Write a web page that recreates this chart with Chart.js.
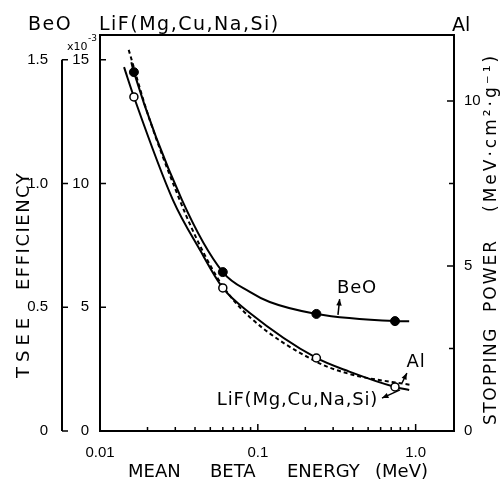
<!DOCTYPE html>
<html>
<head>
<meta charset="utf-8">
<script src="https://cdn.jsdelivr.net/npm/chart.js@4.4.1/dist/chart.umd.min.js"></script>
<style>
  body { margin: 0; background: #fff; }
  #chart { display: block; }
</style>
</head>
<body>
<canvas id="chart" width="501" height="481"></canvas>
<script>
// measured points, mean beta energy in MeV
const pointE = [0.0164, 0.060, 0.235, 0.74];
const beoPoints = [1.45, 0.642, 0.473, 0.444];   // BeO efficiency (outer left axis)
const lifPoints = [13.5, 5.78, 2.95, 1.78];      // LiF efficiency, x10^-3

// drawn curves
const beoLineE = [0.0158, 0.0164, 0.0331, 0.060, 0.089, 0.119, 0.235, 0.74, 0.91];
const beoLineV = [1.49, 1.45, 0.933, 0.642, 0.562, 0.521, 0.473, 0.444, 0.443];
const lifLineE = [0.0142, 0.0164, 0.029, 0.043, 0.060, 0.089, 0.235, 0.38, 0.74, 0.91];
const lifLineV = [14.7, 13.5, 9.33, 7.31, 5.78, 4.77, 2.95, 2.40, 1.78, 1.66];
const alLineE = [0.0152, 0.0201, 0.0299, 0.0412, 0.060, 0.089, 0.235, 0.38, 0.95];
const alLineV = [11.55, 9.6, 7.35, 5.8, 4.39, 3.45, 2.10, 1.73, 1.39]; // MeV cm2/g

// ticks
const xMajor = [0.01, 0.1, 1];
const xMajorLabels = ['0.01', '0.1', '1.0'];
const xMinor = [0.02, 0.03, 0.04, 0.05, 0.06, 0.07, 0.08, 0.09,
  0.2, 0.3, 0.4, 0.5, 0.6, 0.7, 0.8, 0.9];
const beoTicks = [0, 0.5, 1.0, 1.5];
const beoTickLabels = ['0', '0.5', '1.0', '1.5'];
const lifTicks = [0, 5, 10, 15];
const lifTickLabels = ['0', '5', '10', '15'];
const alTicks = [0, 5, 10];
const alTickLabels = ['0', '5', '10'];
const alMinor = [2.5, 7.5];

const FONT = 'DejaVu Sans';
const TICK_FONT = 'Liberation Sans';

function pairs(xs, ys) {
  return xs.map((x, i) => ({ x: x, y: ys[i] }));
}

// labels with arrows, in data units of the LiF axis
const notes = [
  { text: 'BeO', at: [0.425, 5.78], align: 'center', tail: [0.322, 4.69], head: [0.33, 5.33] },
  { text: 'Al', at: [1.006, 2.79], align: 'center', tail: [0.82, 1.94], head: [0.88, 2.34] },
  { text: 'LiF(Mg,Cu,Na,Si)', at: [0.578, 1.25], align: 'right', tail: [0.796, 1.66], head: [0.612, 1.33] },
];

function arrow(ctx, x1, y1, x2, y2) {
  const a = Math.atan2(y2 - y1, x2 - x1);
  ctx.beginPath();
  ctx.moveTo(x1, y1);
  ctx.lineTo(x2, y2);
  ctx.stroke();
  ctx.beginPath();
  ctx.moveTo(x2, y2);
  ctx.lineTo(x2 - 7 * Math.cos(a - 0.4), y2 - 7 * Math.sin(a - 0.4));
  ctx.lineTo(x2 - 7 * Math.cos(a + 0.4), y2 - 7 * Math.sin(a + 0.4));
  ctx.closePath();
  ctx.fill();
}

function spaced(ctx, text, x, y, spacing) {
  ctx.letterSpacing = spacing + 'px';
  ctx.fillText(text, x, y);
  ctx.letterSpacing = '0px';
}

const frameAndLabels = {
  id: 'frameAndLabels',
  afterDraw(chart) {
    const ctx = chart.ctx;
    const ca = chart.chartArea;
    const sx = chart.scales.x;
    const sy = chart.scales.y;
    const sb = chart.scales.yBeO;
    const sa = chart.scales.yAl;
    ctx.save();
    ctx.strokeStyle = '#000';
    ctx.fillStyle = '#000';
    ctx.lineWidth = 2;

    // top of the frame
    ctx.beginPath();
    ctx.moveTo(ca.left - 1, ca.top);
    ctx.lineTo(ca.right + 1, ca.top);
    ctx.stroke();

    // BeO axis, only up to 1.5
    const bx = sb.right;
    ctx.beginPath();
    ctx.moveTo(bx, sb.getPixelForValue(1.5));
    ctx.lineTo(bx, sb.getPixelForValue(0));
    ctx.stroke();

    ctx.lineWidth = 1.5;
    ctx.beginPath();
    beoTicks.forEach(v => {
      const py = sb.getPixelForValue(v);
      ctx.moveTo(bx, py);
      ctx.lineTo(bx + 6, py);
    });
    lifTicks.slice(1).forEach(v => {
      const py = sy.getPixelForValue(v);
      ctx.moveTo(ca.left, py);
      ctx.lineTo(ca.left + 6, py);
    });
    alTicks.slice(1).forEach(v => {
      const py = sa.getPixelForValue(v);
      ctx.moveTo(ca.right, py);
      ctx.lineTo(ca.right - 7, py);
    });
    alMinor.forEach(v => {
      const py = sa.getPixelForValue(v);
      ctx.moveTo(ca.right, py);
      ctx.lineTo(ca.right - 5, py);
    });
    xMajor.slice(1).forEach(v => {
      const px = sx.getPixelForValue(v);
      ctx.moveTo(px, ca.bottom);
      ctx.lineTo(px, ca.bottom - 7);
    });
    xMinor.forEach(v => {
      const px = sx.getPixelForValue(v);
      ctx.moveTo(px, ca.bottom);
      ctx.lineTo(px, ca.bottom - 4);
    });
    ctx.stroke();

    // headings over the axes
    ctx.font = '19px ' + FONT;
    ctx.textAlign = 'left';
    ctx.textBaseline = 'alphabetic';
    spaced(ctx, 'BeO', 28, 30, 1.5);
    spaced(ctx, 'LiF(Mg,Cu,Na,Si)', 99, 30, 1.5);
    ctx.fillText('Al', 452, 31);
    ctx.font = '11px ' + FONT;
    ctx.fillText('x10', 67, 50);
    ctx.font = '9px ' + FONT;
    ctx.fillText('-3', 88, 41);

    // axis titles
    ctx.font = '18px ' + FONT;
    ctx.fillText('MEAN', 128, 477);
    ctx.fillText('BETA', 210, 477);
    ctx.fillText('ENERGY', 287, 477);
    ctx.fillText('(MeV)', 375, 477);

    ctx.save();
    ctx.translate(29, 0);
    ctx.rotate(-Math.PI / 2);
    spaced(ctx, 'TSEE', -378, 0, 5);
    spaced(ctx, 'EFFICIENCY', -290, 0, 1.5);
    ctx.restore();

    ctx.save();
    ctx.translate(496, 0);
    ctx.rotate(-Math.PI / 2);
    ctx.font = '17px ' + FONT;
    spaced(ctx, 'STOPPING', -425, 0, 1.5);
    spaced(ctx, 'POWER', -312, 0, 2);
    spaced(ctx, '(MeV·cm²·g⁻¹)', -212, 0, 3);
    ctx.restore();

    // curve labels
    ctx.font = '18px ' + FONT;
    ctx.textBaseline = 'middle';
    ctx.lineWidth = 1.5;
    notes.forEach(n => {
      ctx.textAlign = n.align;
      spaced(ctx, n.text, sx.getPixelForValue(n.at[0]), sy.getPixelForValue(n.at[1]), 0.8);
      arrow(ctx,
        sx.getPixelForValue(n.tail[0]), sy.getPixelForValue(n.tail[1]),
        sx.getPixelForValue(n.head[0]), sy.getPixelForValue(n.head[1]));
    });
    ctx.restore();
  }
};

const tickFont = { family: TICK_FONT, size: 15 };

new Chart(document.getElementById('chart'), {
  type: 'line',
  data: {
    datasets: [
      {
        label: 'BeO',
        data: pairs(pointE, beoPoints),
        yAxisID: 'yBeO',
        showLine: false,
        pointRadius: 4.5,
        pointBackgroundColor: '#000',
        pointBorderColor: '#000',
        order: 0,
      },
      {
        label: 'LiF(Mg,Cu,Na,Si)',
        data: pairs(pointE, lifPoints),
        yAxisID: 'y',
        showLine: false,
        pointRadius: 4,
        pointBorderWidth: 1.5,
        pointBackgroundColor: '#fff',
        pointBorderColor: '#000',
        order: 0,
      },
      {
        label: 'BeO curve',
        data: pairs(beoLineE, beoLineV),
        yAxisID: 'yBeO',
        borderColor: '#000',
        borderWidth: 2,
        pointRadius: 0,
        cubicInterpolationMode: 'monotone',
        order: 1,
      },
      {
        label: 'LiF curve',
        data: pairs(lifLineE, lifLineV),
        yAxisID: 'y',
        borderColor: '#000',
        borderWidth: 2,
        pointRadius: 0,
        cubicInterpolationMode: 'monotone',
        order: 1,
      },
      {
        label: 'Al',
        data: pairs(alLineE, alLineV),
        yAxisID: 'yAl',
        borderColor: '#000',
        borderWidth: 2,
        borderDash: [4, 3],
        pointRadius: 0,
        cubicInterpolationMode: 'monotone',
        order: 1,
      },
    ],
  },
  options: {
    responsive: false,
    animation: false,
    devicePixelRatio: 1,
    layout: { padding: { top: 35, left: 0, right: 0, bottom: 0 } },
    plugins: {
      legend: { display: false },
      tooltip: { enabled: false },
    },
    scales: {
      x: {
        type: 'logarithmic',
        min: 0.01,
        max: 1.75,
        grid: { display: false },
        border: { color: '#000', width: 2 },
        ticks: {
          color: '#000',
          font: tickFont,
          padding: 5,
          maxRotation: 0,
          autoSkip: false,
          callback: (v, i) => xMajorLabels[i],
        },
        afterBuildTicks: s => { s.ticks = xMajor.map(v => ({ value: v })); },
        afterFit: s => { s.height = 50; },
      },
      y: {
        type: 'linear',
        position: 'left',
        weight: 0,
        min: 0,
        max: 16,
        grid: { display: false },
        border: { color: '#000', width: 2 },
        ticks: {
          color: '#000',
          font: tickFont,
          padding: 3,
          callback: (v, i) => lifTickLabels[i],
        },
        afterBuildTicks: s => { s.ticks = lifTicks.map(v => ({ value: v })); },
        afterFit: s => { s.width = 38; },
      },
      yBeO: {
        type: 'linear',
        position: 'left',
        weight: 1,
        min: 0,
        max: 1.6,
        grid: { display: false },
        border: { display: false },
        ticks: {
          color: '#000',
          font: tickFont,
          padding: 6,
          callback: (v, i) => beoTickLabels[i],
        },
        afterBuildTicks: s => { s.ticks = beoTicks.map(v => ({ value: v })); },
        afterFit: s => { s.width = 62; },
      },
      yAl: {
        type: 'linear',
        position: 'right',
        min: 0,
        max: 12,
        grid: { display: false },
        border: { color: '#000', width: 2 },
        ticks: {
          color: '#000',
          font: tickFont,
          padding: 2,
          callback: (v, i) => alTickLabels[i],
        },
        afterBuildTicks: s => { s.ticks = alTicks.map(v => ({ value: v })); },
        afterFit: s => { s.width = 47; },
      },
    },
  },
  plugins: [frameAndLabels],
});
</script>
</body>
</html>
